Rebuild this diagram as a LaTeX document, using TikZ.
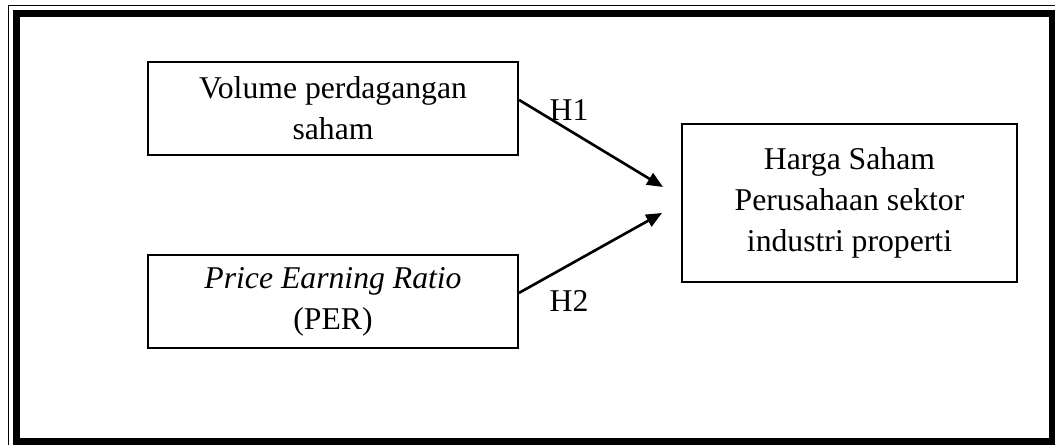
\documentclass[tikz,border=0pt]{standalone}
\usepackage{fontspec}
\setmainfont{Liberation Serif}
\usepackage{tikz}
\usetikzlibrary{positioning,arrows.meta,calc}
\tikzset{
  varbox/.style={rectangle, draw=black, line width=0.85pt, minimum width=4.92cm,
                 minimum height=1.24cm, inner sep=0pt, align=center,
                 font=\fontsize{12}{15.5}\selectfont},
  hargabox/.style={rectangle, draw=black, line width=0.85pt, minimum width=4.46cm,
                   minimum height=2.10cm, inner sep=0pt, align=center,
                   font=\fontsize{12}{15.5}\selectfont},
  hlabel/.style={inner sep=0pt, font=\fontsize{12}{14}\selectfont},
  hypo/.style={-{Triangle[length=6pt,width=5pt]}, line width=1pt, draw=black}
}

\begin{document}
\begin{tikzpicture}[x=0.0133cm, y=-0.0133cm]
\useasboundingbox (0,0) rectangle (1055,445);
% outer frame
\draw[line width=0.57pt] (8.5,445) -- (8.5,5.5) -- (1055,5.5);
\draw[line width=2.65pt] (16.5,13.5) rectangle (1052,441.5);
% variables
\node[varbox] (volume) at (333,108.5) {Volume perdagangan\\saham};
\node[varbox] (per) at (333,301.5) {\textit{Price Earning Ratio}\\(PER)};
\node[hargabox] (harga) at (849.5,203) {Harga Saham\\Perusahaan sektor\\industri properti};
% hypotheses
\coordinate (h1end) at (663,187);
\coordinate (h2end) at (662,213);
\draw[hypo] ($(volume.north east)!0.41!(volume.south east)$) -- (h1end);
\draw[hypo] ($(per.north east)!0.41!(per.south east)$) -- (h2end);
\node[hlabel] (h1) at (569,110) {H1};
\node[hlabel] (h2) at (569,301) {H2};
\end{tikzpicture}
\end{document}
